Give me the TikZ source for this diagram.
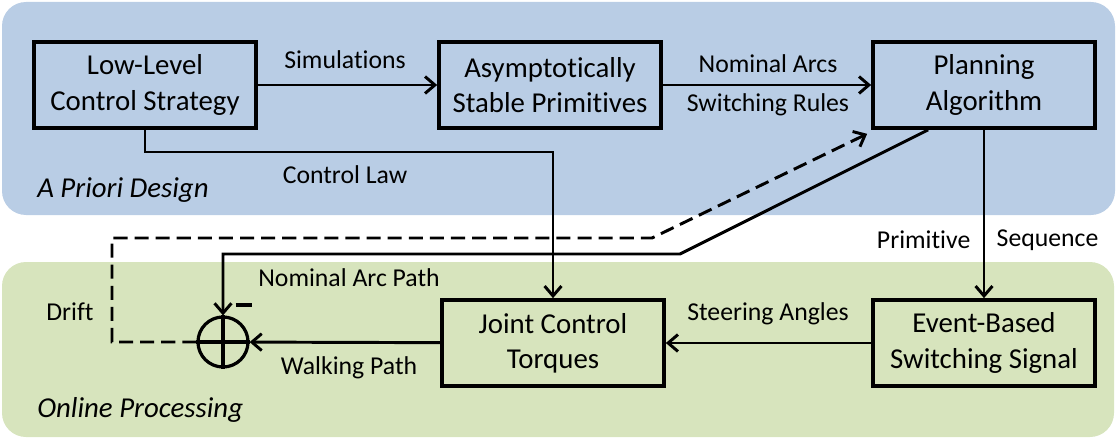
\documentclass[tikz,border=0pt]{standalone}
\usepackage{fontspec}
\setmainfont{Carlito}[Ligatures=NoCommon]
\usetikzlibrary{arrows.meta, positioning, calc}
\definecolor{designblue}{RGB}{185,205,229}
\definecolor{onlinegreen}{RGB}{215,228,189}

\begin{document}
\begin{tikzpicture}[
  x=0.025cm, y=-0.025cm,
  font=\fontsize{18.3}{23.5}\selectfont,
  region/.style={rounded corners=0.6cm},
  block/.style={draw, line width=2.6pt, minimum width=5.55cm, minimum height=2.15cm, align=center, inner sep=2pt, font=\fontsize{20.5}{25}\selectfont},
  flow/.style={line width=2.1pt, -{Straight Barb[length=7pt, width=12pt]}},
  tag/.style={inner sep=1pt},
  zone/.style={font=\fontsize{20.5}{25}\selectfont\itshape, anchor=west, inner sep=0pt}
]
  \useasboundingbox (0,0) rectangle (1117,440);

  % Background regions
  \fill[designblue, region] (2,2) rectangle (1115,215);
  \fill[onlinegreen, region] (2,262) rectangle (1114,437);
  \node[zone] (design) at (37,190) {A Priori Design};
  \node[zone] (online) at (37,410) {Online Processing};

  % Blocks
  \node[block] (low) at (145,85) {Low-Level\\Control Strategy};
  \node[block] (prim) at (550,85) {Asymptotically\\Stable Primitives};
  \node[block] (plan) at (984,85) {Planning\\Algorithm};
  \node[block] (joint) at (553,343) {Joint Control\\Torques};
  \node[block] (event) at (984,343) {Event-Based\\Switching Signal};

  % Summing junction
  \node[circle, draw, line width=2.3pt, minimum size=1.25cm, inner sep=0pt] (sum) at (223,342) {};
  \draw[line width=2.3pt] (sum.north) -- (sum.south) (sum.west) -- (sum.east);
  \node[inner sep=0pt] (minus) at (244,305) {\rule{0.42cm}{0.1cm}};

  % Bends
  \coordinate (lawbend) at (553,152);
  \coordinate (arcknee) at (680,254);
  \coordinate (driftleft) at (112,342);
  \coordinate (driftknee) at (652,238);

  % Connections
  \draw[flow] (low) -- (prim);
  \draw[flow] (prim) -- (plan);
  \draw[flow] (low.south) |- (lawbend) -- (joint.north);
  \draw[flow] (plan.south) -- (event.north);
  \draw[flow] (event) -- (joint);
  \draw[flow] (joint) -- (sum);
  \draw[flow] ($(plan.south west)+(57,0)$) -- (arcknee) -| (sum.north);
  \draw[flow, dashed, dash pattern=on 10pt off 5pt] (sum.west) -- (driftleft) |- (driftknee) -- ($(plan.south west)+(-4,4)$);

  % Labels
  \node[tag] (simtext) at (345,60) {Simulations};
  \node[tag] (arcstext) at (768,64) {Nominal Arcs};
  \node[tag] (rulestext) at (768,105) {Switching Rules};
  \node[tag] (lawtext) at (345,175) {Control Law};
  \node[tag, anchor=east] (primtext) at (972,240) {Primitive};
  \node[tag, anchor=west] (seqtext) at (995,240) {Sequence};
  \node[tag] (pathtext) at (349,278) {Nominal Arc Path};
  \node[tag] (drifttext) at (70,312) {Drift};
  \node[tag] (walktext) at (349,368) {Walking Path};
  \node[tag] (steertext) at (768,314) {Steering Angles};
\end{tikzpicture}
\end{document}
